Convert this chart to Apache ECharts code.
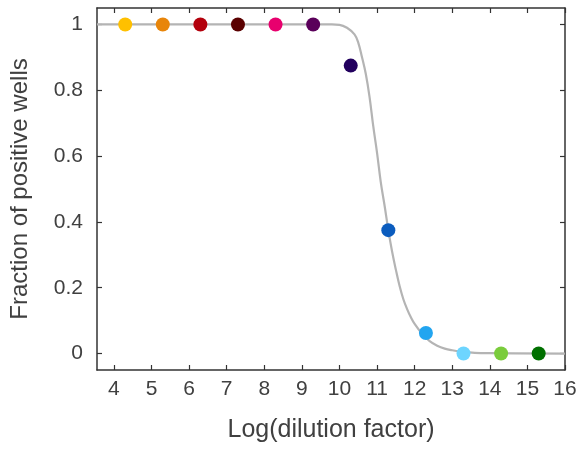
<!DOCTYPE html>
<html>
<head>
<meta charset="utf-8">
<title>Fraction of positive wells</title>
<script src="https://cdn.jsdelivr.net/npm/echarts@6/dist/echarts.min.js"></script>
<style>
  html, body { margin: 0; padding: 0; background: #fff; }
  #chart { width: 581px; height: 452px; }
</style>
</head>
<body>
<div id="chart"></div>
<script>
// measured wells
const dilution = [4.3, 5.3, 6.3, 7.3, 8.3, 9.3, 10.3, 11.3, 12.3, 13.3, 14.3, 15.3];
const fraction = [1, 1, 1, 1, 1, 1, 0.875, 0.375, 0.0625, 0, 0, 0];
const pointColors = ['#FFC000', '#E8850A', '#B3000C', '#5A0000', '#E8006E', '#5A005A',
                     '#22005E', '#0B5CBE', '#22A5F0', '#6DD5FF', '#7ACC3C', '#007000'];

// fitted curve
const fitX = [3.55, 9.8, 10.0, 10.2, 10.4, 10.5, 10.6, 10.7, 10.8, 10.9, 11.0, 11.1, 11.2, 11.3,
              11.4, 11.5, 11.6, 11.7, 11.8, 11.9, 12.0, 12.2, 12.4, 12.6, 12.8, 13.0, 13.3, 13.6, 14.0, 16.0];
const fitY = [1, 1, 0.999, 0.99, 0.97, 0.945, 0.90, 0.85, 0.78, 0.69, 0.61, 0.52, 0.45, 0.375,
              0.31, 0.255, 0.205, 0.165, 0.135, 0.11, 0.09, 0.06, 0.038, 0.024, 0.015, 0.01, 0.005, 0.002, 0.001, 0];

const xTicks = [4, 5, 6, 7, 8, 9, 10, 11, 12, 13, 14, 15, 16];
const yTicks = [0, 0.2, 0.4, 0.6, 0.8, 1];

const chart = echarts.init(document.getElementById('chart'));

const axisLine = { show: true, onZero: false, lineStyle: { color: '#333', width: 1.5 } };
const tickIn = { show: true, inside: true, length: 5, lineStyle: { color: '#333', width: 1.2 } };
const labelFont = { color: '#404040', fontSize: 21, fontFamily: 'Liberation Sans' };

const baseX = {
    type: 'value', min: 3.55, max: 16,
    axisLine: axisLine, splitLine: { show: false },
    axisTick: Object.assign({ customValues: xTicks }, tickIn),
    axisLabel: { show: false, customValues: xTicks }
};
const baseY = {
    type: 'value', min: -0.05, max: 1.05,
    axisLine: axisLine, splitLine: { show: false },
    axisTick: Object.assign({ customValues: yTicks }, tickIn),
    axisLabel: { show: false, customValues: yTicks }
};

chart.setOption({
    animation: false,
    grid: { left: 97, right: 16, top: 8, bottom: 82 },
    xAxis: [
        Object.assign({}, baseX, {
            position: 'bottom',
            axisLabel: Object.assign({ show: true, margin: 9, customValues: xTicks }, labelFont),
            name: 'Log(dilution factor)', nameLocation: 'middle', nameGap: 48,
            nameTextStyle: { color: '#404040', fontSize: 25, fontFamily: 'Liberation Sans' }
        }),
        Object.assign({}, baseX, { position: 'top' })
    ],
    yAxis: [
        Object.assign({}, baseY, {
            position: 'left',
            axisLabel: Object.assign({ show: true, margin: 14, customValues: yTicks }, labelFont),
            name: 'Fraction of positive wells', nameLocation: 'middle', nameGap: 65,
            nameTextStyle: { color: '#404040', fontSize: 24, fontFamily: 'Liberation Sans' }
        }),
        Object.assign({}, baseY, { position: 'right' })
    ],
    series: [
        {
            name: 'fit',
            type: 'line',
            data: fitX.map((x, i) => [x, fitY[i]]),
            smooth: 0.4,
            showSymbol: false,
            lineStyle: { color: '#B4B4B4', width: 2.2 },
            z: 1
        },
        {
            name: 'wells',
            type: 'scatter',
            symbolSize: 14,
            data: dilution.map((x, i) => ({
                value: [x, fraction[i]],
                itemStyle: { color: pointColors[i], opacity: 1 }
            })),
            z: 2
        }
    ]
});
</script>
</body>
</html>
